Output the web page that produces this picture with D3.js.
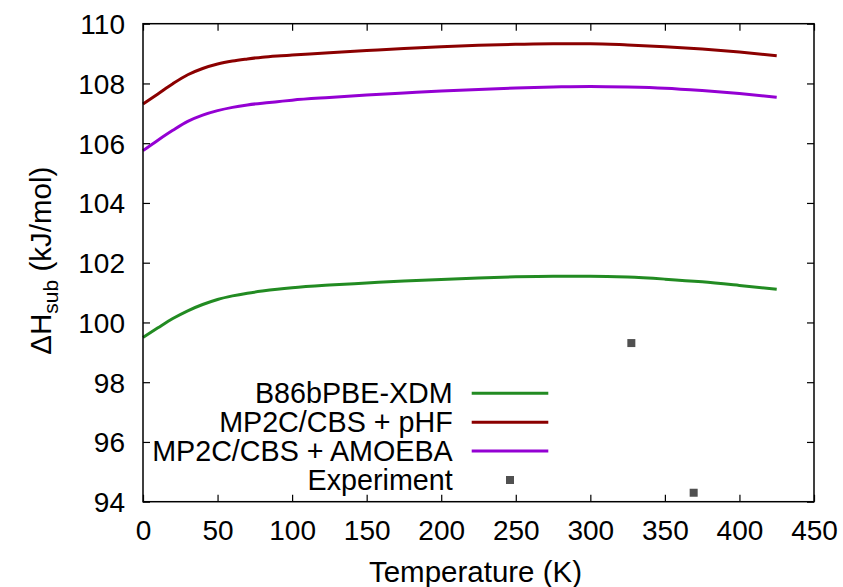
<!DOCTYPE html>
<html>
<head>
<meta charset="utf-8">
<script src="https://cdn.jsdelivr.net/npm/d3@7"></script>
<style>
  html, body { margin: 0; padding: 0; background: #fff; }
  text { font-family: "Liberation Sans", Arial, Helvetica, sans-serif; }
</style>
</head>
<body>
<svg id="chart" width="843" height="587"></svg>
<script>
// ---- data ----
const temperatures = [0, 10, 20, 30, 40, 50, 60, 70, 80, 90, 100, 125, 150, 175, 200, 225, 250, 275, 300, 325, 350, 375, 400, 425];
const b86bpbeXdm = [99.50, 99.82, 100.13, 100.39, 100.60, 100.77, 100.89, 100.98, 101.05, 101.11, 101.16, 101.25, 101.32, 101.39, 101.44, 101.49, 101.53, 101.55, 101.55, 101.52, 101.45, 101.36, 101.24, 101.11];
const mp2cPhf = [107.31, 107.65, 107.99, 108.29, 108.50, 108.65, 108.75, 108.82, 108.88, 108.92, 108.95, 109.03, 109.10, 109.17, 109.23, 109.28, 109.31, 109.33, 109.33, 109.29, 109.23, 109.15, 109.05, 108.93];
const mp2cAmoeba = [105.75, 106.10, 106.43, 106.73, 106.94, 107.09, 107.20, 107.28, 107.34, 107.39, 107.44, 107.53, 107.61, 107.68, 107.75, 107.80, 107.85, 107.88, 107.90, 107.88, 107.84, 107.76, 107.66, 107.54];
const expTemperatures = [327.5, 369.3];
const expValues = [99.31, 94.30];
const xTicks = [0, 50, 100, 150, 200, 250, 300, 350, 400, 450];
const yTicks = [94, 96, 98, 100, 102, 104, 106, 108, 110];
const seriesNames = ["B86bPBE-XDM", "MP2C/CBS + pHF", "MP2C/CBS + AMOEBA", "Experiment"];
const seriesColors = ["#228b22", "#8b0000", "#9400d3", "#505050"];

(function () {
// ---- layout ----
const pLeft = 143, pRight = 814, pTop = 23.7, pBottom = 501.7;
const svg = d3.select("#chart");
const x = d3.scaleLinear().domain([0, 450]).range([pLeft, pRight]);
const y = d3.scaleLinear().domain([94, 110]).range([pBottom, pTop]);
const tickFont = 28, legendFont = 28.7, titleFont = 29.5;

// ---- curves ----
const lines = [b86bpbeXdm, mp2cPhf, mp2cAmoeba];
const lineGen = d3.line()
  .x(d => x(d[0])).y(d => y(d[1]))
  .curve(d3.curveMonotoneX);
lines.forEach((vals, i) => {
  const pts = temperatures.map((t, j) => [t, vals[j]]);
  svg.append("path")
    .attr("d", lineGen(pts))
    .attr("fill", "none")
    .attr("stroke", seriesColors[i])
    .attr("stroke-width", 3);
});

// ---- experiment points ----
svg.selectAll("rect.exp")
  .data(expTemperatures.map((t, i) => [t, expValues[i]]))
  .enter().append("rect")
  .attr("class", "exp")
  .attr("x", d => x(d[0]) - 4).attr("y", d => y(d[1]) - 4)
  .attr("width", 8).attr("height", 8)
  .attr("fill", seriesColors[3]);

// ---- axes (gnuplot style: inward ticks, mirrored) ----
const tickLen = 7;
const axisBottom = d3.axisBottom(x).tickValues(xTicks).tickSize(-tickLen).tickSizeOuter(0);
const axisTop = d3.axisTop(x).tickValues(xTicks).tickSize(-tickLen).tickFormat("").tickSizeOuter(0);
const axisLeft = d3.axisLeft(y).tickValues(yTicks).tickSize(-tickLen).tickSizeOuter(0);
const axisRight = d3.axisRight(y).tickValues(yTicks).tickSize(-tickLen).tickFormat("").tickSizeOuter(0);

function styleAxis(g) {
  g.select(".domain").remove();
  g.selectAll(".tick line").attr("stroke", "#000").attr("stroke-width", 1.2);
  g.selectAll(".tick text").attr("fill", "#000").attr("font-size", tickFont)
    .attr("font-family", "Liberation Sans, Arial, sans-serif");
}
svg.append("g").attr("transform", `translate(0,${pBottom})`).call(axisBottom).call(styleAxis)
  .selectAll(".tick text").attr("dy", null).attr("y", 38.3);
svg.append("g").attr("transform", `translate(0,${pTop})`).call(axisTop).call(styleAxis);
svg.append("g").attr("transform", `translate(${pLeft},0)`).call(axisLeft).call(styleAxis)
  .selectAll(".tick text").attr("x", -18).attr("dy", null).attr("y", 10);
svg.append("g").attr("transform", `translate(${pRight},0)`).call(axisRight).call(styleAxis);

// border
svg.append("rect")
  .attr("x", pLeft).attr("y", pTop)
  .attr("width", pRight - pLeft).attr("height", pBottom - pTop)
  .attr("fill", "none").attr("stroke", "#000").attr("stroke-width", 1.5);

// ---- axis titles ----
svg.append("text")
  .attr("x", (pLeft + pRight) / 2 - 3).attr("y", 582)
  .attr("text-anchor", "middle").attr("font-size", titleFont)
  .text("Temperature (K)");

const yTitle = svg.append("text")
  .attr("transform", `translate(51,${(pTop + pBottom) / 2 - 2}) rotate(-90)`)
  .attr("text-anchor", "middle").attr("font-size", titleFont);
yTitle.append("tspan").text("ΔH");
yTitle.append("tspan").attr("font-size", 21).attr("dy", 7).text("sub");
yTitle.append("tspan").attr("dy", -7).text(" (kJ/mol)");

// ---- legend ----
const legendTextRight = 452.7;
const sampleX0 = 471.7, sampleX1 = 548.3;
const rowY0 = 393.3, rowStep = 28.9;
seriesNames.forEach((name, i) => {
  const cy = rowY0 + i * rowStep;
  svg.append("text")
    .attr("x", legendTextRight).attr("y", cy + 10)
    .attr("text-anchor", "end").attr("font-size", legendFont)
    .text(name);
  if (i < 3) {
    svg.append("line")
      .attr("x1", sampleX0).attr("x2", sampleX1)
      .attr("y1", cy).attr("y2", cy)
      .attr("stroke", seriesColors[i]).attr("stroke-width", 3);
  } else {
    svg.append("rect")
      .attr("x", (sampleX0 + sampleX1) / 2 - 4).attr("y", cy - 4)
      .attr("width", 8).attr("height", 8)
      .attr("fill", seriesColors[3]);
  }
});
})();
</script>
</body>
</html>
